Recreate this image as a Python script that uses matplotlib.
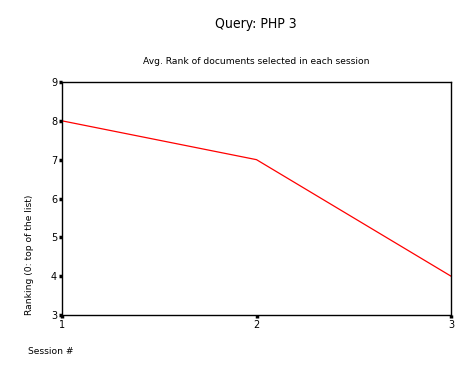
import matplotlib
matplotlib.use("Agg")
import matplotlib.pyplot as plt

sessions = [1, 2, 3]
avg_rank = [8, 7, 4]
y_ticks = [3, 4, 5, 6, 7, 8, 9]

plt.rcParams["font.family"] = ["DejaVu Sans"]

fig = plt.figure(figsize=(4.71, 3.77), dpi=100)
ax = fig.add_axes([62 / 471, 62 / 377, 389 / 471, 233 / 377])

ax.plot(sessions, avg_rank, color="red", linewidth=0.9)

ax.set_xlim(1, 3)
ax.set_ylim(3, 9)
ax.set_xticks(sessions)
ax.set_yticks(y_ticks)
ax.tick_params(direction="out", length=2.5, width=2.5, labelsize=7, pad=1)
for side in ax.spines.values():
    side.set_linewidth(1.0)

fig.text(256 / 471, 1 - 24 / 377, "Query: PHP 3", ha="center", va="center",
         fontsize=10, fontstretch="condensed")
fig.text(256 / 471, 1 - 62 / 377, "Avg. Rank of documents selected in each session",
         ha="center", va="center", fontsize=6.6)
fig.text(28 / 471, 1 - 352 / 377, "Session #", ha="left", va="center", fontsize=6.6)
fig.text(30 / 471, 1 - 255 / 377, "Ranking (0: top of the list)", ha="center", va="center",
         rotation=90, fontsize=6.6)

fig.savefig("out.png", dpi=100)
